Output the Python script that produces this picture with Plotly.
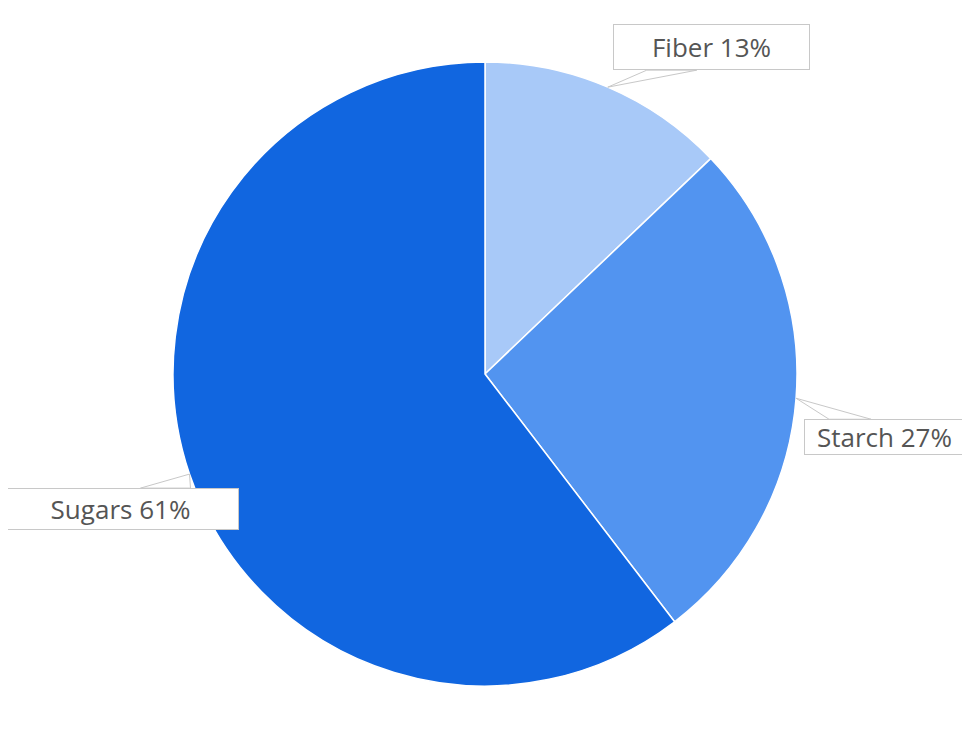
import math
import plotly.graph_objects as go

# ---- data ----
categories = ["Fiber", "Starch", "Sugars"]
values = [13, 27, 61]
colors = ["#A8C9F8", "#5294F0", "#1166E0"]

# ---- layout constants (pixels, page coordinates) ----
PAGE_OFF = 8  # default body margin of the html page
W, H = 962, 740
CX, CY, R = 485 - PAGE_OFF, 374 - PAGE_OFF, 312
# callout box: (dx, dy of box center from tip, box w, box h, base x0, base x1 relative to box center)
callouts = [
    (104, -40, 197, 46, -65, -15),
    (88, 39, 161, 36, -55, -13),
    (-69, 35, 237, 42, 20, 70),
]

def px(x):
    return x / W

def py(y):
    return 1 - y / H

fig = go.Figure()
fig.add_trace(go.Pie(
    labels=categories,
    values=values,
    sort=False,
    direction="clockwise",
    rotation=0,
    marker=dict(colors=colors, line=dict(color="white", width=1.5)),
    textinfo="none",
    hoverinfo="label+value",
    showlegend=False,
    domain=dict(x=[px(CX - R), px(CX + R)], y=[py(CY + R), py(CY - R)]),
))

total = sum(values)
cum = 0
shapes = []
annotations = []
for name, v, (dx, dy, bw, bh, b0, b1) in zip(categories, values, callouts):
    mid = (cum + v / 2) / total * 2 * math.pi
    cum += v
    tx = CX + R * math.sin(mid)
    ty = CY - R * math.cos(mid)
    bx = tx + dx
    by = ty + dy
    edge_y = by - bh / 2 if ty < by else by + bh / 2
    p0 = (bx + b0, edge_y)
    p1 = (bx + b1, edge_y)
    path = f"M {px(tx)},{py(ty)} L {px(p0[0])},{py(p0[1])} L {px(p1[0])},{py(p1[1])} Z"
    shapes.append(dict(type="path", xref="paper", yref="paper", path=path,
                       fillcolor="white", line=dict(color="#c8c8c8", width=1)))
    annotations.append(dict(
        x=px(bx), y=py(by), xref="paper", yref="paper",
        xanchor="center", yanchor="middle",
        text=f"{name} {v}%", showarrow=False,
        font=dict(family="Open Sans, Inter, sans-serif", size=26, color="#555555"),
        bgcolor="white", bordercolor="#c8c8c8", borderwidth=1, borderpad=0,
        width=bw - 2, height=bh - 2,
    ))

fig.update_layout(
    width=W, height=H,
    margin=dict(l=0, r=0, t=0, b=0),
    paper_bgcolor="white", plot_bgcolor="white",
    shapes=shapes, annotations=annotations,
)

fig.write_html("out.html")
